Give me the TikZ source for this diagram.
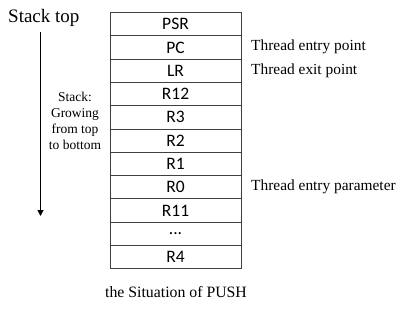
\documentclass[tikz,border=0pt]{standalone}
\usepackage{fontspec}
\setmainfont{Liberation Serif}
\newfontfamily\cellfont{Carlito}
\usetikzlibrary{arrows.meta}
\newcommand\mydotstxt{...}
\tikzset{
  cell/.style={draw=black!75, line width=1pt, minimum width=131pt, minimum height=23.3pt, inner sep=0pt, font=\cellfont\fontsize{17.5}{19}\selectfont},
  lbl/.style={anchor=west, inner sep=0pt, font=\fontsize{15.4}{17}\selectfont},
}
\begin{document}
\begin{tikzpicture}[x=1pt,y=-1pt]
\useasboundingbox (0,0) rectangle (409,309);
\foreach \t [count=\i from 0] in {PSR,PC,LR,R12,R3,R2,R1,R0,R11,\mydotstxt,R4}{
  \node[cell] (c\i) at (175.5,{12.5+23.3*(\i+0.5)}) {\t};
}
\node[lbl] (l1) at (251,47) {Thread entry point};
\node[lbl] (l2) at (251,71) {Thread exit point};
\node[lbl] (l7) at (251,187) {Thread entry parameter};
\node[anchor=west, inner sep=0pt, font=\fontsize{19}{21}\selectfont] (top) at (8,18) {Stack top};
\coordinate (a1) at (40.5,32);
\coordinate (a2) at (40.5,216);
\draw[line width=1pt, -{Triangle[length=6pt,width=6pt]}] (a1) -- (a2);
\node[align=center, inner sep=0pt, font=\fontsize{13.5}{16}\selectfont] (grow) at (75,121) {Stack:\\Growing\\from top\\to bottom};
\node[inner sep=0pt, font=\fontsize{15.8}{17}\selectfont] (cap) at (176,292) {the Situation of PUSH};
\end{tikzpicture}
\end{document}
